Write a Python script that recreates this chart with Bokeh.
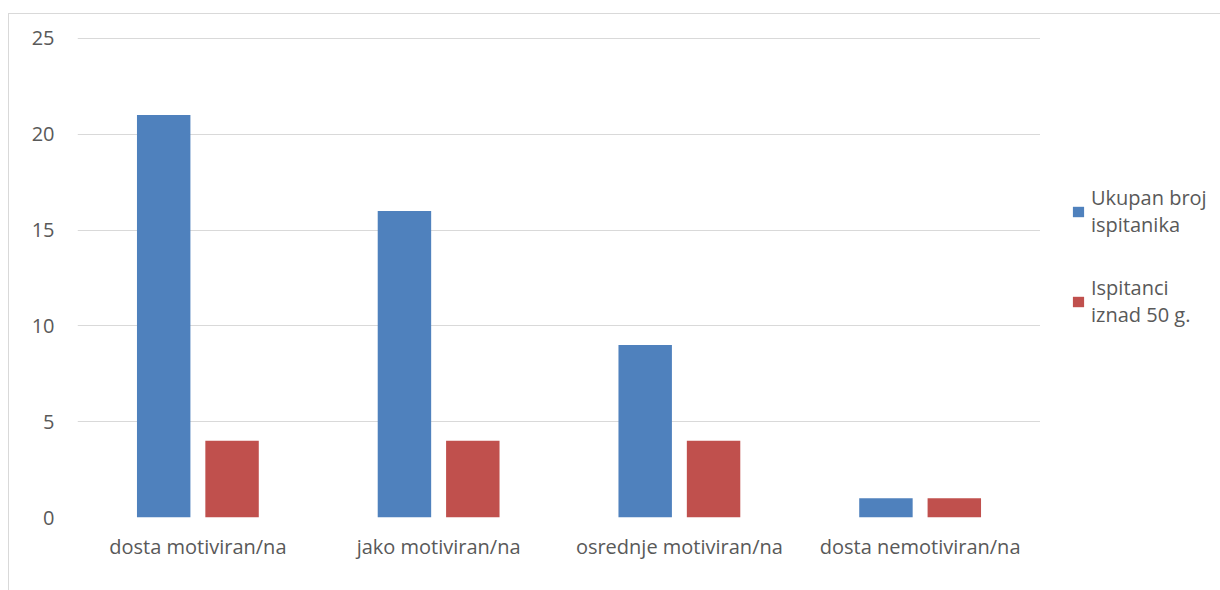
from bokeh.plotting import figure
from bokeh.layouts import row
from bokeh.models import ColumnDataSource, Range1d, FactorRange, Legend, LegendItem, SingleIntervalTicker
from bokeh.transform import dodge
from bokeh.embed import file_html
from bokeh.resources import INLINE

categories = ["dosta motiviran/na", "jako motiviran/na", "osrednje motiviran/na", "dosta nemotiviran/na"]
ukupan = [21, 16, 9, 1]
iznad50 = [4, 4, 4, 1]
series_names = ["Ukupan broj\nispitanika", "Ispitanci\niznad 50 g."]
colors = ["#4F81BD", "#C0504D"]

FONT = "Open Sans"
TXT = "#595959"

src = ColumnDataSource(dict(cat=categories, ukupan=ukupan, iznad50=iznad50))

p = figure(width=1031, height=576, x_range=FactorRange(*categories), y_range=Range1d(0, 25.1),
           output_backend="svg", toolbar_location=None,
           min_border_left=68, min_border_right=0, min_border_top=22, min_border_bottom=73)

p.vbar(x=dodge("cat", -0.142, range=p.x_range), top="ukupan", width=0.222, source=src,
       fill_color=colors[0], line_color=None)
p.vbar(x=dodge("cat", 0.142, range=p.x_range), top="iznad50", width=0.222, source=src,
       fill_color=colors[1], line_color=None)

p.outline_line_color = None
p.xgrid.grid_line_color = None
p.ygrid.grid_line_color = "#d9d9d9"
p.ygrid.grid_line_width = 1
p.yaxis.ticker = SingleIntervalTicker(interval=5)

for ax in (p.xaxis[0], p.yaxis[0]):
    ax.axis_line_color = None
    ax.major_tick_line_color = None
    ax.minor_tick_line_color = None
    ax.major_tick_out = 0
    ax.major_tick_in = 0
    ax.major_label_text_font = FONT
    ax.major_label_text_font_size = "20px"
    ax.major_label_text_color = TXT
p.yaxis.major_label_standoff = 19
p.xaxis.major_label_standoff = 15

# legend panel
p2 = figure(width=180, height=576, x_range=FactorRange(*categories), y_range=Range1d(0, 25.1),
            output_backend="svg", toolbar_location=None,
            min_border_left=0, min_border_right=0, min_border_top=0, min_border_bottom=0,
            x_axis_type=None, y_axis_type=None)
p2.outline_line_color = None
p2.grid.grid_line_color = None
l1 = p2.vbar(x="cat", top="ukupan", width=0.2, source=src, fill_color=colors[0], line_color=None, visible=False)
l2 = p2.vbar(x="cat", top="iznad50", width=0.2, source=src, fill_color=colors[1], line_color=None, visible=False)

legend = Legend(items=[LegendItem(label=series_names[0], renderers=[l1]),
                       LegendItem(label=series_names[1], renderers=[l2])],
                location=(31, 189), orientation="vertical",
                label_text_font=FONT, label_text_font_size="20px", label_text_color=TXT,
                label_text_line_height=1.25,
                glyph_width=14, glyph_height=13, label_standoff=6, spacing=36,
                border_line_color=None, background_fill_alpha=0, padding=0, margin=0)
p2.add_layout(legend)

layout = row(p, p2, spacing=0)
layout.styles = {"border-left": "1px solid #d9d9d9", "border-top": "1px solid #d9d9d9",
                 "margin-top": "13px", "margin-left": "8px"}

open("out.html", "w").write(file_html(layout, INLINE))
